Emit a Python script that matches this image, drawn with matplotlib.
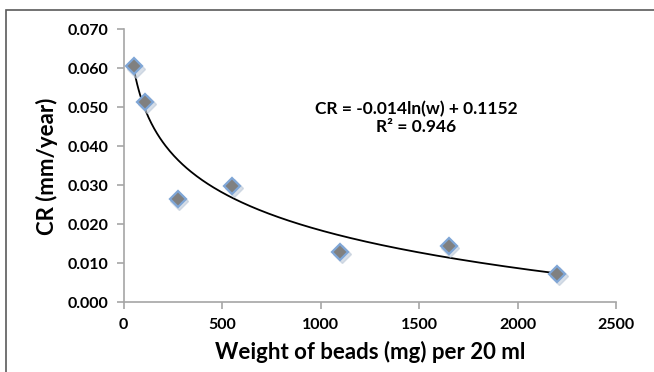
import numpy as np
import matplotlib.pyplot as plt
import matplotlib.patches as patches
import matplotlib.transforms as mtransforms

# data
weight = [55, 110, 275, 550, 1100, 1650, 2200]
cr = [0.0605, 0.0513, 0.0266, 0.0298, 0.0130, 0.0144, 0.0073]

# log trend line coefficients as printed on the chart
slope = -0.014
intercept = 0.1152
eq_text = "CR = -0.014ln(w) + 0.1152"
r2_text = "R² = 0.946"

x_ticks = [0, 500, 1000, 1500, 2000, 2500]
y_ticks = [0.0, 0.01, 0.02, 0.03, 0.04, 0.05, 0.06, 0.07]

plt.rcParams['font.family'] = ['Lato', 'DejaVu Sans']

fig = plt.figure(figsize=(6.54, 3.72), dpi=100)
ax = fig.add_axes([0.189, 0.187, 0.753, 0.734])

# outer frame (cropped at right/bottom like the original)
frame = patches.Rectangle((6 / 654, -0.1), 1.2, 1 - 10 / 372 + 0.1,
                          transform=fig.transFigure, fill=False,
                          edgecolor='#5a5a5a', linewidth=1.2)
fig.patches.append(frame)

# trend line
wx = np.linspace(min(weight), max(weight), 300)
ax.plot(wx, slope * np.log(wx) + intercept, color='black', linewidth=1.3, zorder=2)

# marker shadows
shadow = mtransforms.offset_copy(ax.transData, fig=fig, x=1.2, y=-1.5, units='points')
ax.plot(weight, cr, linestyle='none', marker='D', markersize=9.5,
        color='#b9c6d6', alpha=0.55, transform=shadow, zorder=3)
ax.plot(weight, cr, linestyle='none', marker='D', markersize=8.5,
        markerfacecolor='#808080', markeredgecolor='#7fa6d6',
        markeredgewidth=1.6, zorder=4)

ax.set_xlim(0, 2500)
ax.set_ylim(0, 0.07)
ax.set_xticks(x_ticks)
ax.set_yticks(y_ticks)
ax.set_xticklabels([str(t) for t in x_ticks])
ax.set_yticklabels(["%.3f" % t for t in y_ticks])

for s in ['top', 'right']:
    ax.spines[s].set_visible(False)
for s in ['left', 'bottom']:
    ax.spines[s].set_color('#a6a6a6')
    ax.spines[s].set_linewidth(1.2)
ax.tick_params(axis='both', direction='out', length=5, width=1.2,
               color='#a6a6a6', labelsize=11.5, pad=6)
for lab in ax.get_xticklabels() + ax.get_yticklabels():
    lab.set_fontweight('bold')

ax.set_xlabel("Weight of beads (mg) per 20 ml", fontsize=16, fontweight='bold', labelpad=7)
ax.set_ylabel("CR (mm/year)", fontsize=16, fontweight='bold', labelpad=7)

ax.text(0.636, 0.683, eq_text + "\n" + r2_text, transform=fig.transFigure,
        ha='center', va='center', fontsize=12.5, fontweight='bold', linespacing=1.15)

fig.savefig('out.png', dpi=100)
